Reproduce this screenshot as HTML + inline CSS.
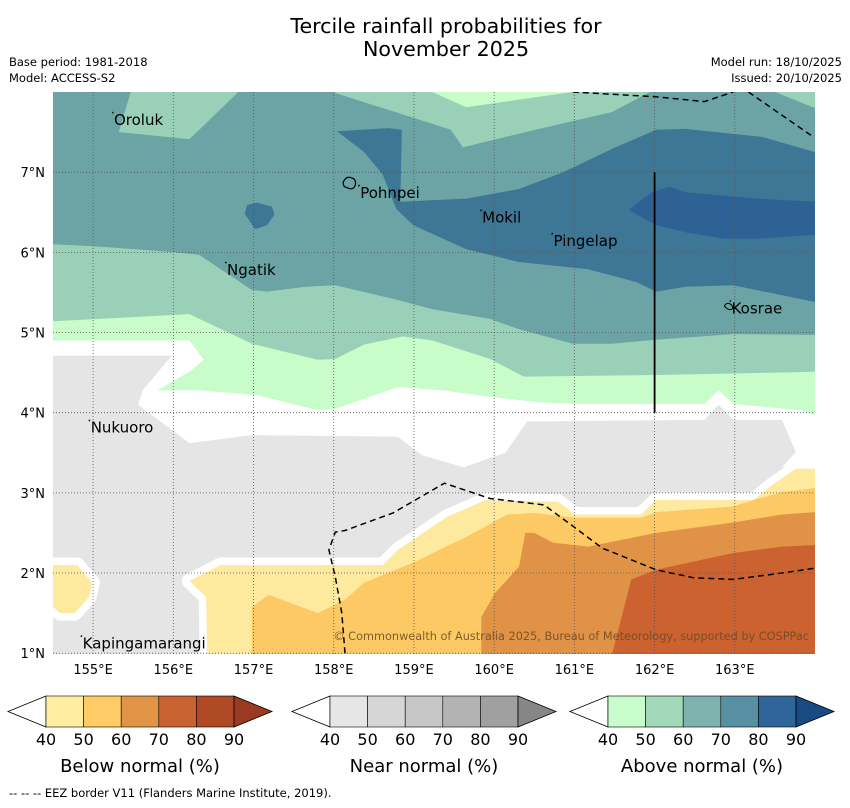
<!DOCTYPE html>
<html><head><meta charset="utf-8">
<style>
html,body{margin:0;padding:0;background:#fff;}
body{width:850px;height:804px;overflow:hidden;font-family:"DejaVu Sans","Liberation Sans",sans-serif;}
</style></head>
<body>
<svg id="chart" width="850" height="804" viewBox="0 0 850 804" xmlns="http://www.w3.org/2000/svg" font-family="DejaVu Sans, Liberation Sans, sans-serif">
<text x="446" y="33" font-size="20.6" text-anchor="middle">Tercile rainfall probabilities for</text>
<text x="446" y="56" font-size="20.6" text-anchor="middle">November 2025</text>
<text x="9" y="66" font-size="11.5">Base period: 1981-2018</text>
<text x="9" y="82" font-size="11.5">Model: ACCESS-S2</text>
<text x="842" y="66" font-size="11.5" text-anchor="end">Model run: 18/10/2025</text>
<text x="842" y="82" font-size="11.5" text-anchor="end">Issued: 20/10/2025</text>
<defs><clipPath id="mapclip"><rect x="53" y="92" width="762" height="562"/></clipPath></defs>
<g id="map" clip-path="url(#mapclip)"></g>
<g id="axes"></g>
<g id="legend"></g>
<text x="9" y="797" font-size="11.5">--  --  -- EEZ border V11 (Flanders Marine Institute, 2019).</text>
</svg>
<script>
const lonMin=154.5, lonMax=164.0, latMin=0.99, latMax=8.0;
const lonTicks=[155,156,157,158,159,160,161,162,163];
const latTicks=[1,2,3,4,5,6,7];
// contour polygons [lon,lat]
const above4050=[[154.5,8],[164,8],[164,3.97],[163.83,4.03],[162.98,4.11],[162.80,4.28],[162.62,4.11],[160.98,4.11],[160.56,4.13],[159.95,4.20],[159.35,4.28],[158.80,4.32],[158.02,4.05],[157.80,4.03],[157.04,4.22],[156.32,4.28],[155.80,4.28],[156.20,4.51],[156.38,4.66],[156.20,4.90],[154.5,4.90]];
const above5060=[[154.5,8],[164,8],[164,4.51],[162.02,4.47],[160.37,4.45],[159.95,4.67],[159.23,4.90],[158.86,4.95],[158.38,4.85],[158.02,4.67],[157.80,4.66],[156.98,4.86],[156.20,5.23],[154.5,5.14]];
const above6070=[[154.5,8],[164,8],[164,4.97],[162.98,4.98],[162.02,4.91],[161.47,4.86],[160.98,4.86],[160.31,5.04],[159.95,5.17],[159.23,5.29],[158.74,5.42],[158.02,5.59],[157.65,5.57],[157.17,5.51],[156.98,5.53],[156.32,5.97],[156.01,6.00],[155.11,6.07],[154.5,6.10]];
const patchOroluk=[[155.47,8],[155.32,7.50],[156.20,7.41],[156.81,8]];
const patchTopMid=[[157.98,8],[159.46,7.53],[159.61,7.31],[160.56,7.54],[161.47,7.75],[161.94,8]];
const patchTopRight=[[163.50,8],[164,8],[164,7.80]];
const patchTop4050=[[159.23,8],[159.65,7.81],[160.56,7.94],[160.98,8]];
const above7080=[[158.04,7.51],[158.68,7.55],[158.85,7.53],[158.83,6.63],[159.65,6.67],[160.31,6.79],[160.86,7.00],[161.47,7.29],[162.02,7.53],[162.38,7.54],[163.34,7.44],[164,7.25],[164,5.38],[162.98,5.59],[162.38,5.57],[162.02,5.51],[161.77,5.63],[161.17,5.79],[160.31,5.88],[159.65,6.04],[158.99,6.34],[158.78,6.54],[158.61,6.97],[158.38,7.25]];
const blob7080=[[156.92,6.59],[157.04,6.62],[157.23,6.57],[157.26,6.47],[157.17,6.34],[157.02,6.29],[156.89,6.48]];
const above8090=[[161.68,6.53],[161.96,6.75],[162.19,6.82],[162.38,6.75],[163.29,6.67],[164,6.63],[164,6.22],[163.29,6.17],[162.87,6.17],[162.38,6.25],[162.02,6.34]];
const near4050=[[154.5,4.71],[155.98,4.71],[155.62,4.28],[155.56,4.10],[156.20,3.62],[156.98,3.72],[158.80,3.70],[159.10,3.47],[159.62,3.32],[160.14,3.50],[160.41,3.89],[162.62,3.91],[162.80,4.10],[162.98,3.91],[163.59,3.91],[163.76,3.51],[163.59,3.32],[164,3.32],[164,0.99],[154.5,0.99]];
const below4050a=[[154.5,2.10],[154.80,2.10],[154.99,1.88],[154.95,1.70],[154.77,1.50],[154.59,1.50],[154.5,1.58]];
const below4050=[[156.20,1.90],[156.59,2.10],[158.61,2.10],[158.80,2.29],[159.04,2.45],[159.41,2.70],[159.89,2.91],[160.80,2.89],[161.01,2.73],[161.83,2.73],[162.02,2.91],[163.23,2.91],[163.47,3.10],[163.76,3.30],[164,3.30],[164,0.99],[156.42,0.99],[156.41,1.70]];
const below5060=[[156.98,1.58],[157.19,1.73],[157.80,1.50],[158.14,1.67],[158.38,1.88],[158.99,2.13],[159.71,2.48],[160.16,2.73],[160.50,2.75],[161.01,2.69],[161.83,2.69],[162.02,2.76],[162.98,2.83],[163.23,2.91],[163.59,3.01],[164,3.06],[164,0.99],[156.98,0.99]];
const below6070=[[159.84,0.99],[159.84,1.45],[160.01,1.75],[160.31,2.08],[160.39,2.50],[160.50,2.50],[160.73,2.38],[161.17,2.33],[162.02,2.50],[162.98,2.63],[163.59,2.73],[164,2.76],[164,0.99]];
const below7080=[[161.47,0.99],[161.71,1.92],[162.02,2.04],[162.98,2.25],[163.59,2.33],[164,2.35],[164,0.99]];
const eezTop=[[160.98,8],[162.02,7.94],[162.62,7.88],[162.98,8]];
const eezTopRight=[[163.17,8],[163.95,7.46]];
const eezBottom=[[158.14,1.0],[158.10,1.50],[158.02,1.95],[157.94,2.29],[158.02,2.51],[158.14,2.53],[158.74,2.75],[159.38,3.12],[159.95,2.93],[160.62,2.85],[160.92,2.63],[161.35,2.31],[162.02,2.04],[162.49,1.94],[162.98,1.92],[163.59,2.00],[164,2.06]];
const divider=[[162,7.0],[162,4.0]];
const placeNames=["Oroluk","Pohnpei","Mokil","Pingelap","Ngatik","Kosrae","Nukuoro","Kapingamarangi"];
const placeLon=[155.26,158.33,159.85,160.74,156.67,162.96,154.97,154.87];
const placeLat=[7.59,6.68,6.37,6.08,5.72,5.24,3.75,1.06];
const legendTicks=[40,50,60,70,80,90];
const legendTitles=["Below normal (%)","Near normal (%)","Above normal (%)"];

const X0=53,X1=815,Y0=92,Y1=654;
const xs=lon=>X0+(lon-lonMin)/(lonMax-lonMin)*(X1-X0);
const ys=lat=>Y1-(lat-latMin)/(latMax-latMin)*(Y1-Y0);
const NS='http://www.w3.org/2000/svg';
const mk=(t,a,p)=>{const e=document.createElementNS(NS,t);for(const k in a)e.setAttribute(k,a[k]);p.appendChild(e);return e;};
const pts=arr=>arr.map(p=>xs(p[0]).toFixed(1)+','+ys(p[1]).toFixed(1)).join(' ');
const map=document.getElementById('map');
const bg=mk('rect',{x:X0,y:Y0,width:X1-X0,height:Y1-Y0,fill:'#fff'},map);


function poly(arr,fill,name,white){
  const a={points:pts(arr),fill:fill};
  if(white){a.stroke='#fff';a['stroke-width']=15;a['stroke-linejoin']='round';a['paint-order']='stroke';}
  const e=mk('polygon',a,map);
  
  
}
poly(near4050,'#e5e5e5','near-normal-40-50');
poly(above4050,'#c8fcc9','above-normal-40-50');
poly(above5060,'#9bd0b8','above-normal-50-60');
poly(above6070,'#6ca4a6','above-normal-60-70');
poly(patchOroluk,'#9bd0b8','above-normal-50-60-oroluk');
poly(patchTopMid,'#9bd0b8','above-normal-50-60-top');
poly(patchTopRight,'#9bd0b8','above-normal-50-60-corner');
poly(patchTop4050,'#c8fcc9','above-normal-40-50-top');
poly(above7080,'#3e7795','above-normal-70-80');
poly(blob7080,'#3e7795','above-normal-70-80-blob');
poly(above8090,'#2e6194','above-normal-80-90');
poly(below4050a,'#feea9f','below-normal-40-50-west',true);
poly(below4050,'#feea9f','below-normal-40-50',true);
poly(below5060,'#fdc964','below-normal-50-60');
poly(below6070,'#e09346','below-normal-60-70');
poly(below7080,'#cc622f','below-normal-70-80');
// gridlines
lonTicks.forEach(l=>{const e=mk('line',{x1:xs(l),x2:xs(l),y1:Y0,y2:Y1,stroke:'#555','stroke-width':0.8,'stroke-dasharray':'1,2'},map);

});
latTicks.forEach(l=>{const e=mk('line',{x1:X0,x2:X1,y1:ys(l),y2:ys(l),stroke:'#555','stroke-width':0.8,'stroke-dasharray':'1,2'},map);

});
function line(arr,name,dash,w){const e=mk('polyline',{points:pts(arr),fill:'none',stroke:'#000','stroke-width':w,'stroke-dasharray':dash},map);

}
line(eezTop,'eez-border-north','6,4',1.5);
line(eezTopRight,'eez-border-northeast','6,4',1.5);
line(eezBottom,'eez-border-south','6,4',1.5);
line(divider,'divider-line','none',1.8);
// islands
const isl=mk('path',{d:`M${xs(158.12)},${ys(6.88)} q3,-6 8,-4 q5,1 4,7 q-2,6 -8,3 q-5,-1 -4,-6z`,fill:'none',stroke:'#000','stroke-width':1.2},map);


const isl2=mk('path',{d:`M${xs(162.87)},${ys(5.33)} q2,-4 6,-2 q3,2 2,5 q-4,2 -8,-3z`,fill:'none',stroke:'#000','stroke-width':1},map);


placeNames.forEach((n,i)=>{
  const d=mk('rect',{x:xs(placeLon[i])-2,y:ys(placeLat[i])-13,width:1.5,height:1.5,fill:'#000'},map);
  
  
  const t=mk('text',{x:xs(placeLon[i]),y:ys(placeLat[i]),'font-size':15,fill:'#000'},map);
  t.textContent=n;
  
  
});
const cp=mk('text',{x:809,y:640,'font-size':11.3,fill:'#6b4a25','fill-opacity':0.85,'text-anchor':'end'},map);
cp.textContent='© Commonwealth of Australia 2025, Bureau of Meteorology, supported by COSPPac';


// axes labels
const ax=document.getElementById('axes');
lonTicks.forEach(l=>{const t=mk('text',{x:xs(l),y:674,'font-size':13,'text-anchor':'middle'},ax);t.textContent=l+'°E';

});
latTicks.forEach(l=>{const t=mk('text',{x:45,y:ys(l)+5,'font-size':13,'text-anchor':'end'},ax);t.textContent=l+'°N';

});
// legends
const lg=document.getElementById('legend');
const palettes=[["#ffeea2","#fecb67","#e19346","#ca6131","#b04a26","#9a3a20"],["#e6e6e6","#d6d6d6","#c6c6c6","#b3b3b3","#a0a0a0","#868686"],["#c9fccb","#a3d8bb","#7fb4ae","#5890a3","#2f6599","#1a4a82"]];
const starts=[46,330,608];
starts.forEach((sx,b)=>{
  const cw=37.6,yt=696,yb=727,ym=711.5,ex=sx+cw*5;
  const g=mk('g',{},lg);
  
  
  mk('polygon',{points:`${sx},${yt} ${sx-38},${ym} ${sx},${yb}`,fill:'#fff',stroke:'#000','stroke-width':0.8},g);
  for(let i=0;i<5;i++){mk('rect',{x:sx+i*cw,y:yt,width:cw,height:yb-yt,fill:palettes[b][i],stroke:'#000','stroke-width':0.6},g);}
  mk('polygon',{points:`${ex},${yt} ${ex+38},${ym} ${ex},${yb}`,fill:palettes[b][5],stroke:'#000','stroke-width':0.8},g);
  legendTicks.forEach((v,i)=>{const t=mk('text',{x:sx+i*cw,y:745,'font-size':16,'text-anchor':'middle'},g);t.textContent=v;
  
  });
  const tt=mk('text',{x:sx+cw*2.5,y:772,'font-size':18,'text-anchor':'middle'},g);tt.textContent=legendTitles[b];
  
  
});
</script>
</body></html>
